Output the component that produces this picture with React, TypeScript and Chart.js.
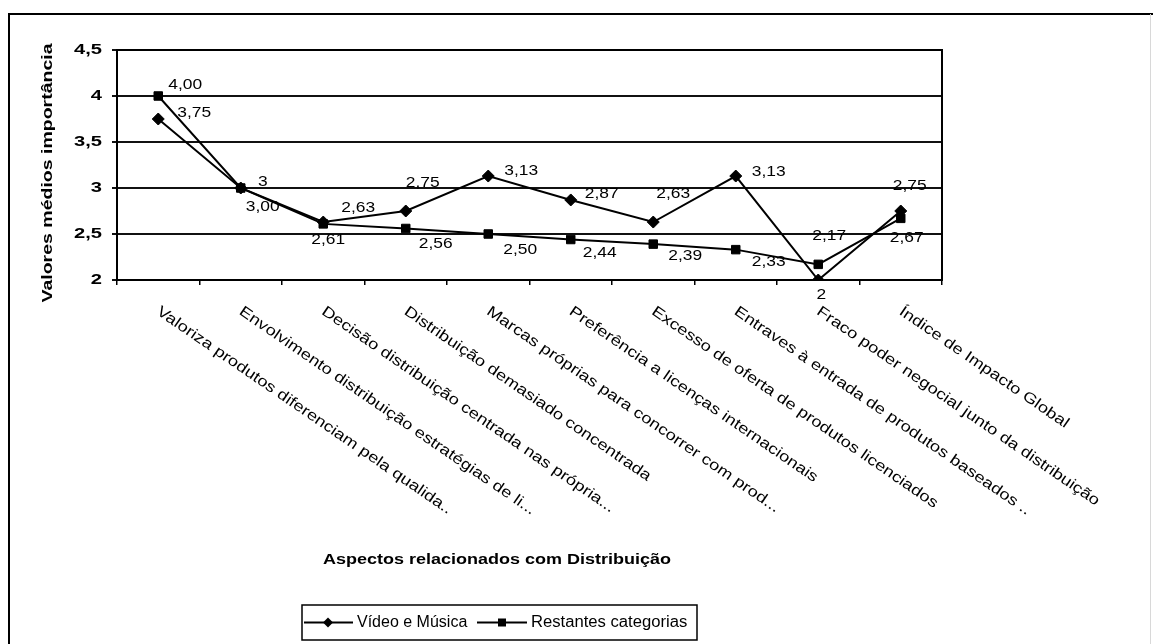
import React, { useEffect, useRef } from 'react';
import { Chart, registerables } from 'chart.js';

Chart.register(...registerables);

const categories = [
  'Valoriza produtos diferenciam pela qualida..',
  'Envolvimento distribuição estratégias de li...',
  'Decisão distribuição centrada nas própria...',
  'Distribuição demasiado concentrada',
  'Marcas próprias para concorrer com prod...',
  'Preferência a licenças internacionais',
  'Excesso de oferta de produtos licenciados',
  'Entraves à entrada de produtos baseados ..',
  'Fraco poder negocial junto da distribuição',
  'Índice de Impacto Global',
];
const videoMusica = [3.75, 3.0, 2.63, 2.75, 3.13, 2.87, 2.63, 3.13, 2.0, 2.75];
const restantes = [4.0, 3.0, 2.61, 2.56, 2.5, 2.44, 2.39, 2.33, 2.17, 2.67];
const videoLabels = ['3,75', '3', '2,63', '2,75', '3,13', '2,87', '2,63', '3,13', '2', '2,75'];
const restantesLabels = ['4,00', '3,00', '2,61', '2,56', '2,50', '2,44', '2,39', '2,33', '2,17', '2,67'];
const yTickLabels = ['2', '2,5', '3', '3,5', '4', '4,5'];
const seriesNames = ['Vídeo e Música', 'Restantes categorias'];
const xTitle = 'Aspectos relacionados com Distribuição';
const yTitle = 'Valores médios importância';

// label placement offsets (px) relative to each point
const videoLabelOffsets = [[36, -6], [22, -6], [35, -14], [17, -28], [33, -5], [31, -6], [20, -28], [33, -4], [3, 15], [9, -25]];
const restLabelOffsets = [[27, -11], [22, 19], [5, 16], [30, 16], [32, 16], [29, 13], [32, 12], [33, 12], [11, -28], [6, 20]];

const FONT = '"Liberation Sans", Arial, sans-serif';

function drawText(
  ctx: CanvasRenderingContext2D,
  text: string,
  x: number,
  y: number,
  font: string,
  sx: number,
  align: CanvasTextAlign,
  baseline: CanvasTextBaseline,
  rot = 0
) {
  ctx.save();
  ctx.translate(x, y);
  if (rot) ctx.rotate(rot);
  ctx.scale(sx, 1);
  ctx.font = font;
  ctx.textAlign = align;
  ctx.textBaseline = baseline;
  ctx.fillStyle = '#000';
  ctx.fillText(text, 0, 0);
  ctx.restore();
}

function diamond(ctx: CanvasRenderingContext2D, x: number, y: number, r: number) {
  ctx.beginPath();
  ctx.moveTo(x, y - r);
  ctx.lineTo(x + r, y);
  ctx.lineTo(x, y + r);
  ctx.lineTo(x - r, y);
  ctx.closePath();
  ctx.fill();
}

const decorPlugin = {
  id: 'decor',
  afterDatasetsDraw(chart: any) {
    const ctx: CanvasRenderingContext2D = chart.ctx;
    const labelFont = `14.5px ${FONT}`;
    const sets = [
      { labels: videoLabels, offs: videoLabelOffsets },
      { labels: restantesLabels, offs: restLabelOffsets },
    ];
    sets.forEach((s, di) => {
      const meta = chart.getDatasetMeta(di);
      meta.data.forEach((pt: any, i: number) => {
        const [dx, dy] = s.offs[i];
        drawText(ctx, s.labels[i], pt.x + dx, pt.y + dy, labelFont, 1.2, 'center', 'middle');
      });
    });
  },
  afterDraw(chart: any) {
    const ctx: CanvasRenderingContext2D = chart.ctx;
    const ca = chart.chartArea;
    const yScale = chart.scales.y;
    const xScale = chart.scales.x;

    // outer border
    ctx.save();
    ctx.strokeStyle = '#000';
    ctx.lineWidth = 2;
    ctx.beginPath();
    ctx.moveTo(9, 700);
    ctx.lineTo(9, 14);
    ctx.lineTo(1153, 14);
    ctx.stroke();
    ctx.strokeStyle = '#d8d8d8';
    ctx.lineWidth = 1;
    ctx.beginPath();
    ctx.moveTo(1150.5, 14);
    ctx.lineTo(1150.5, 644);
    ctx.stroke();

    // plot frame
    ctx.strokeStyle = '#000';
    ctx.lineWidth = 2;
    ctx.strokeRect(ca.left, ca.top, ca.right - ca.left, ca.bottom - ca.top);
    ctx.restore();

    // y tick labels
    yScale.ticks.forEach((t: any, i: number) => {
      const y = yScale.getPixelForValue(t.value);
      drawText(ctx, yTickLabels[i] ?? String(t.value), 102, y, `bold 15.5px ${FONT}`, 1.3, 'right', 'middle');
    });

    // y title
    drawText(ctx, yTitle, 48, 173, `bold 15px ${FONT}`, 1.3, 'center', 'middle', -Math.PI / 2);

    // x tick labels (rotated downward)
    const ang = (34.5 * Math.PI) / 180;
    categories.forEach((c, i) => {
      const x = xScale.getPixelForTick(i);
      drawText(ctx, c, x + 4, ca.bottom + 24, `15px ${FONT}`, 1.22, 'left', 'top', ang);
    });

    // x title
    drawText(ctx, xTitle, 497, 560, `bold 15px ${FONT}`, 1.2, 'center', 'middle');

    // legend
    ctx.save();
    ctx.strokeStyle = '#000';
    ctx.fillStyle = '#000';
    ctx.lineWidth = 1.5;
    ctx.strokeRect(302, 605, 395, 35);
    ctx.lineWidth = 2;
    ctx.beginPath();
    ctx.moveTo(304, 622.5);
    ctx.lineTo(353, 622.5);
    ctx.moveTo(477, 622.5);
    ctx.lineTo(527, 622.5);
    ctx.stroke();
    diamond(ctx, 328, 622.5, 5);
    ctx.fillRect(498, 618.5, 8, 8);
    ctx.restore();
    drawText(ctx, seriesNames[0], 357, 623, `16px ${FONT}`, 1.0, 'left', 'middle');
    drawText(ctx, seriesNames[1], 531, 623, `16px ${FONT}`, 1.04, 'left', 'middle');
  },
};

export default function App() {
  const ref = useRef<HTMLCanvasElement | null>(null);

  useEffect(() => {
    if (!ref.current) return;
    const chart = new Chart(ref.current, {
      type: 'line',
      data: {
        labels: categories,
        datasets: [
          {
            label: seriesNames[0],
            data: videoMusica,
            borderColor: '#000',
            backgroundColor: '#000',
            borderWidth: 2,
            pointStyle: 'rectRot',
            pointRadius: 6,
            pointBackgroundColor: '#000',
            pointBorderColor: '#000',
            pointBorderWidth: 1,
            tension: 0,
          },
          {
            label: seriesNames[1],
            data: restantes,
            borderColor: '#000',
            backgroundColor: '#000',
            borderWidth: 2,
            pointStyle: 'rect',
            pointRadius: 6,
            pointBackgroundColor: '#000',
            pointBorderColor: '#000',
            pointBorderWidth: 1,
            tension: 0,
          },
        ],
      },
      options: {
        animation: false,
        responsive: false,
        devicePixelRatio: 1,
        layout: { padding: { left: 10, top: 50, right: 211, bottom: 0 } },
        plugins: {
          legend: { display: false },
          title: { display: false },
          tooltip: { enabled: false },
        },
        scales: {
          x: {
            type: 'category',
            offset: true,
            grid: {
              display: true,
              drawOnChartArea: false,
              drawTicks: true,
              tickLength: 5,
              color: '#000',
              lineWidth: 1.5,
              offset: true,
            },
            border: { display: false },
            ticks: { display: false },
            afterFit: (s: any) => {
              s.height = 364;
            },
          },
          y: {
            min: 2,
            max: 4.5,
            ticks: { stepSize: 0.5, display: false },
            grid: { color: '#111', lineWidth: 2, drawTicks: true, tickLength: 5 },
            border: { display: false },
            afterFit: (s: any) => {
              s.width = 107;
            },
          },
        },
      },
      plugins: [decorPlugin],
    });
    return () => chart.destroy();
  }, []);

  return (
    <div style={{ position: 'absolute', left: 0, top: 0, width: 1153, height: 644, background: '#fff' }}>
      <canvas ref={ref} width={1153} height={644} style={{ display: 'block', width: 1153, height: 644 }} />
    </div>
  );
}
